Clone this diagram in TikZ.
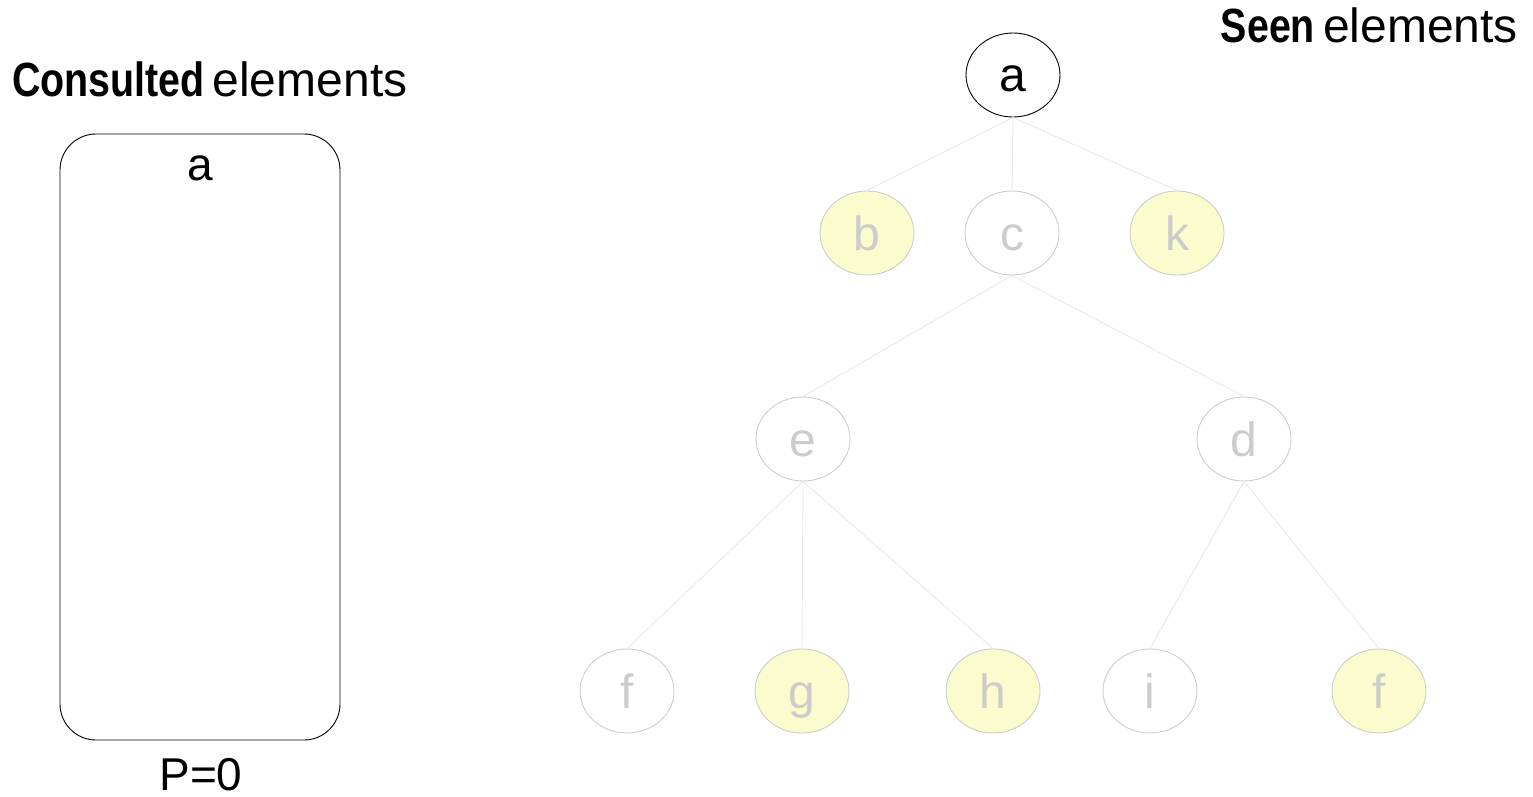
\documentclass[tikz,border=0pt]{standalone}
\usepackage{fontspec}
\setmainfont{Liberation Sans}
\usetikzlibrary{shapes.geometric}
\definecolor{seenfill}{RGB}{250,252,206}
\definecolor{faded}{RGB}{204,204,204}
\definecolor{edgegray}{RGB}{232,232,232}
\tikzset{
  treenode/.style={ellipse, draw=faded, line width=0.9pt, text=faded, minimum width=94pt, minimum height=84pt, inner sep=0pt, text height=34pt, text depth=0pt, font=\fontsize{48}{52}\selectfont},
  seennode/.style={treenode, fill=seenfill},
  rootnode/.style={treenode, draw=black, text=black},
  treeedge/.style={draw=edgegray, line width=0.9pt},
  heading/.style={inner sep=0pt, font=\fontsize{48}{52}\selectfont},
  boxlabel/.style={inner sep=0pt, font=\fontsize{46}{50}\selectfont}
}
\begin{document}
\begin{tikzpicture}[x=1pt,y=-1pt]
\useasboundingbox (0,0) rectangle (1533,797);
% headings
\node[heading, anchor=base west] (cons) at (12,97) {\scalebox{0.82}[1]{\bfseries Consulted}\,elements};
\node[heading, anchor=base east] (seen) at (1518,43) {\scalebox{0.82}[1]{\bfseries Seen}\,elements};
% consulted box
\draw[line width=0.9pt, rounded corners=36pt] (60,134) rectangle (340,740);
\node[boxlabel, anchor=base] (boxa) at (200,180) {a};
\node[boxlabel, anchor=base] (pval) at (201,790) {P=0};
% tree nodes
\node[rootnode] (a) at (1013,75) {a};
\node[seennode] (b) at (867,233) {b};
\node[treenode] (c) at (1012,233) {c};
\node[seennode] (k) at (1177,233) {k};
\node[treenode] (e) at (803,439) {e};
\node[treenode] (d) at (1244,439) {d};
\node[treenode] (f1) at (627,691) {f};
\node[seennode] (g) at (802,691) {g};
\node[seennode] (h) at (993,691) {h};
\node[treenode] (i) at (1150,691) {i};
\node[seennode] (f2) at (1379,691) {f};
% edges
\draw[treeedge] (a.south) -- (b.north);
\draw[treeedge] (a.south) -- (c.north);
\draw[treeedge] (a.south) -- (k.north);
\draw[treeedge] (c.south) -- (e.north);
\draw[treeedge] (c.south) -- (d.north);
\draw[treeedge] (e.south) -- (f1.north);
\draw[treeedge] (e.south) -- (g.north);
\draw[treeedge] (e.south) -- (h.north);
\draw[treeedge] (d.south) -- (i.north);
\draw[treeedge] (d.south) -- (f2.north);
\end{tikzpicture}
\end{document}
